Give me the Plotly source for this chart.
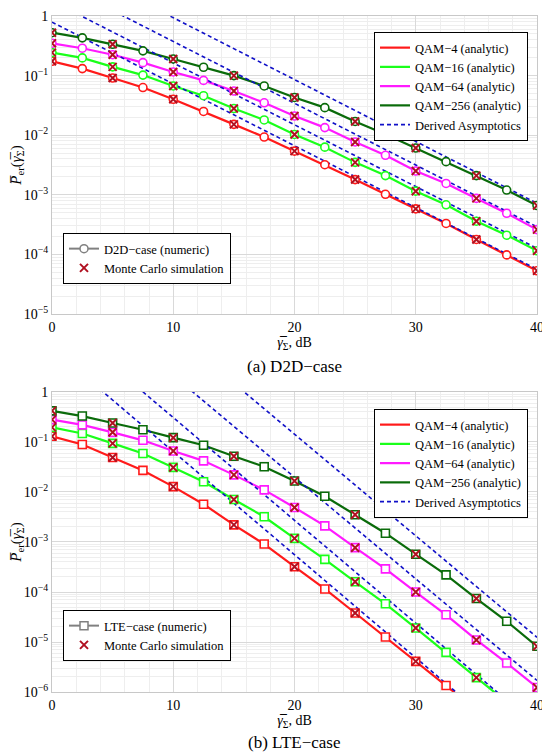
import plotly.graph_objects as go

# SNR grid (dB) for numeric / analytic curves
snr = [0, 2.5, 5, 7.5, 10, 12.5, 15, 17.5, 20, 22.5, 25, 27.5, 30, 32.5, 35, 37.5, 40]
asym_snr = [0, 40]

# (a) D2D-case
d2d_qam4 = [0.174, 0.131, 0.091, 0.063, 0.040, 0.025, 0.0152, 0.0093, 0.0054, 0.0032,
            0.0018, 0.00102, 5.8e-4, 3.3e-4, 1.78e-4, 9.8e-5, 5.3e-5]
d2d_qam16 = [0.243, 0.198, 0.14, 0.102, 0.067, 0.046, 0.028, 0.018, 0.0103, 0.0063,
             0.0035, 0.0021, 0.00115, 6.8e-4, 3.6e-4, 2.1e-4, 1.15e-4]
d2d_qam64 = [0.348, 0.288, 0.224, 0.165, 0.115, 0.083, 0.055, 0.035, 0.021, 0.0134,
             0.0077, 0.0046, 0.0025, 0.00155, 8.7e-4, 4.9e-4, 2.6e-4]
d2d_qam256 = [0.525, 0.43, 0.335, 0.26, 0.19, 0.138, 0.1, 0.067, 0.043, 0.029,
              0.017, 0.0104, 0.0061, 0.0036, 0.0021, 0.0012, 6.6e-4]
d2d_asym4 = [0.79, 5.6e-5]
d2d_asym16 = [1.78, 1.26e-4]
d2d_asym64 = [4.07, 2.9e-4]
d2d_asym256 = [10.2, 7.2e-4]

# (b) LTE-case
lte_qam4 = [0.13, 0.089, 0.049, 0.027, 0.0128, 0.0057, 0.0022, 9.1e-4, 3.2e-4, 1.15e-4,
            3.8e-5, 1.26e-5, 4.1e-6, 1.35e-6, 4.4e-7, 1.45e-7, 4.7e-8]
lte_qam16 = [0.196, 0.148, 0.094, 0.059, 0.031, 0.016, 0.0071, 0.0032, 0.00118, 4.5e-4,
             1.6e-4, 5.8e-5, 1.9e-5, 6.2e-6, 1.94e-6, 6.3e-7, 2.0e-7]
lte_qam64 = [0.28, 0.22, 0.156, 0.108, 0.066, 0.042, 0.022, 0.011, 0.0049, 0.0021,
             7.7e-4, 2.9e-4, 1.0e-4, 3.5e-5, 1.1e-5, 3.8e-6, 1.23e-6]
lte_qam256 = [0.42, 0.33, 0.24, 0.176, 0.122, 0.086, 0.052, 0.032, 0.0166, 0.0082,
              0.0035, 0.0015, 5.7e-4, 2.2e-4, 7.4e-5, 2.6e-5, 8.2e-6]
lte_asym4 = [7.4, 4.2e-8]
lte_asym16 = [35, 2.1e-7]
lte_asym64 = [230, 1.7e-6]
lte_asym256 = [1650, 1.24e-5]

names = ["QAM−4 (analytic)", "QAM−16 (analytic)", "QAM−64 (analytic)", "QAM−256 (analytic)"]
colors = ["#ff1a1a", "#1aff1a", "#ff1aff", "#0a6b0a"]
x_ticks = [0, 10, 20, 30, 40]
y_ticks_d2d = [1e-5, 1e-4, 1e-3, 1e-2, 1e-1, 1]
y_text_d2d = ["10<sup>−5</sup>", "10<sup>−4</sup>", "10<sup>−3</sup>", "10<sup>−2</sup>", "10<sup>−1</sup>", "1"]
y_ticks_lte = [1e-6, 1e-5, 1e-4, 1e-3, 1e-2, 1e-1, 1]
y_text_lte = ["10<sup>−6</sup>", "10<sup>−5</sup>", "10<sup>−4</sup>", "10<sup>−3</sup>", "10<sup>−2</sup>",
              "10<sup>−1</sup>", "1"]

SERIF = "Liberation Serif"
MC_COLOR = "#b01020"
ASYM_COLOR = "#1010c8"

fig = go.Figure()


def add_panel(curves, asyms, xa, ya, leg_main, leg_mc, symbol, case_name):
    # analytic lines (legend)
    for vals, nm, col in zip(curves, names, colors):
        fig.add_trace(go.Scatter(x=snr, y=vals, mode="lines", name=nm,
                                 line=dict(color=col, width=2.2),
                                 xaxis=xa, yaxis=ya, legend=leg_main))
    # asymptotes, one trace
    ax, ay = [], []
    for a in asyms:
        ax += asym_snr + [None]
        ay += a + [None]
    fig.add_trace(go.Scatter(x=ax, y=ay, mode="lines", name="Derived Asymptotics",
                             line=dict(color=ASYM_COLOR, width=1.6, dash="4px,3px"),
                             xaxis=xa, yaxis=ya, legend=leg_main))
    # numeric markers
    for vals, col in zip(curves, colors):
        fig.add_trace(go.Scatter(x=snr, y=vals, mode="markers", showlegend=False,
                                 marker=dict(symbol=symbol, size=8, color="white",
                                             line=dict(color=col, width=1.6)),
                                 xaxis=xa, yaxis=ya))
    # legend entry for numeric
    fig.add_trace(go.Scatter(x=[None], y=[None], mode="lines+markers", name=case_name,
                             line=dict(color="#808080", width=2),
                             marker=dict(symbol=symbol, size=8, color="white",
                                         line=dict(color="#808080", width=1.5)),
                             xaxis=xa, yaxis=ya, legend=leg_mc))
    # Monte Carlo points every 5 dB
    mx, my = [], []
    for vals in curves:
        mx += snr[::2]
        my += vals[::2]
    fig.add_trace(go.Scatter(x=mx, y=my, mode="markers", name="Monte Carlo simulation",
                             marker=dict(symbol="x-thin", size=8,
                                         line=dict(color=MC_COLOR, width=2)),
                             xaxis=xa, yaxis=ya, legend=leg_mc))


add_panel([d2d_qam4, d2d_qam16, d2d_qam64, d2d_qam256],
          [d2d_asym4, d2d_asym16, d2d_asym64, d2d_asym256],
          "x", "y", "legend", "legend2", "circle", "D2D−case (numeric)")
add_panel([lte_qam4, lte_qam16, lte_qam64, lte_qam256],
          [lte_asym4, lte_asym16, lte_asym64, lte_asym256],
          "x2", "y2", "legend3", "legend4", "square", "LTE−case (numeric)")

ytitle = "<i>P̅</i><sub>er</sub>(<i>γ̅</i><sub>Σ</sub>)"
xtitle = "<i>γ̅</i><sub>Σ</sub>, dB"

axis_common = dict(showline=True, mirror=True, linecolor="#c8c8c8", linewidth=1,
                   showgrid=True, gridcolor="#d9d9d9", zeroline=False, ticks="",
                   automargin=False,
                   tickfont=dict(family=SERIF, size=14, color="black"))
xaxis_common = dict(axis_common, range=[0, 40], tickvals=x_ticks,
                    minor=dict(dtick=2, tick0=0, showgrid=True, gridcolor="#eeeeee"),
                    title=dict(text=xtitle, font=dict(family=SERIF, size=14, color="black"),
                               standoff=2))
yaxis_common = dict(axis_common, type="log",
                    minor=dict(dtick="D1", showgrid=True, gridcolor="#eeeeee"),
                    title=dict(text=ytitle, font=dict(family=SERIF, size=15, color="black"),
                               standoff=1))

# the page body adds an 8px offset; plot area on page: x 52..537, y 16..692
PW, PH = 485, 676
legend_main = dict(xref="paper", yref="paper", xanchor="right", yanchor="top",
                   bgcolor="white", bordercolor="black", borderwidth=1,
                   font=dict(family=SERIF, size=12.5, color="black"))
legend_mc = dict(xref="paper", yref="paper", xanchor="left", yanchor="top",
                 bgcolor="white", bordercolor="black", borderwidth=1,
                 font=dict(family=SERIF, size=12.5, color="black"))

fig.update_layout(
    width=542, height=744,
    margin=dict(l=44, r=13, t=8, b=60, autoexpand=False),
    paper_bgcolor="white", plot_bgcolor="white",
    template="none",
    xaxis=dict(xaxis_common, domain=[0, 1], anchor="y"),
    yaxis=dict(yaxis_common, domain=[0.5592, 1], anchor="x", range=[-5, 0],
               tickvals=y_ticks_d2d, ticktext=y_text_d2d),
    xaxis2=dict(xaxis_common, domain=[0, 1], anchor="y2"),
    yaxis2=dict(yaxis_common, domain=[0, 0.4438], anchor="x2", range=[-6, 0],
                tickvals=y_ticks_lte, ticktext=y_text_lte),
    legend=dict(legend_main, x=(528 - 52) / PW, y=1 - (32 - 16) / PH),
    legend2=dict(legend_mc, x=(63 - 52) / PW, y=1 - (233 - 16) / PH),
    legend3=dict(legend_main, x=(528 - 52) / PW, y=1 - (409 - 16) / PH),
    legend4=dict(legend_mc, x=(63 - 52) / PW, y=1 - (610 - 16) / PH),
    annotations=[
        dict(text="(a) D2D−case", xref="paper", yref="paper", x=0.5, y=1 - (366 - 16) / PH,
             yanchor="middle", showarrow=False, font=dict(family=SERIF, size=17, color="black")),
        dict(text="(b) LTE−case", xref="paper", yref="paper", x=0.5, y=1 - (742 - 16) / PH,
             yanchor="middle", showarrow=False, font=dict(family=SERIF, size=17, color="black")),
    ],
)

fig.write_html("out.html")
